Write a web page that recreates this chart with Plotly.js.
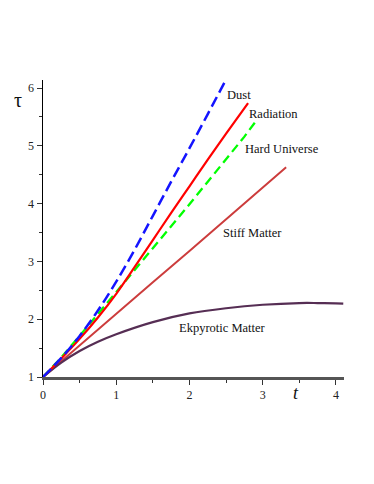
<!DOCTYPE html>
<html>
<head>
<meta charset="utf-8">
<script src="https://cdn.plot.ly/plotly-3.0.1.min.js"></script>
<style>
  html, body { margin: 0; padding: 0; background: #fff; }
  #chart { width: 374px; height: 484px; }
</style>
</head>
<body>
<div id="chart"></div>
<script>
// values
var dustT = [0, 0.25, 0.5, 0.75, 1, 1.25, 1.5, 1.75, 2, 2.25, 2.5];
var dustTau = [1, 1.33, 1.71, 2.15, 2.65, 3.20, 3.79, 4.38, 4.96, 5.55, 6.15];

var radT = [0, 0.25, 0.5, 0.75, 1, 1.25, 1.5, 1.75, 2, 2.25, 2.5, 2.8];
var radTau = [1, 1.32, 1.66, 2.03, 2.44, 2.90, 3.37, 3.84, 4.30, 4.76, 5.21, 5.74];

var hardT = [0, 0.25, 0.5, 0.75, 1, 1.25, 1.5, 1.75, 2, 2.25, 2.5, 2.75, 2.92];
var hardTau = [1, 1.34, 1.71, 2.09, 2.46, 2.84, 3.22, 3.60, 3.99, 4.38, 4.77, 5.16, 5.45];

var stiffT = [0, 0.5, 1, 1.5, 2, 2.5, 3, 3.32];
var stiffTau = [1, 1.55, 2.09, 2.64, 3.18, 3.73, 4.28, 4.63];

var ekT = [0, 0.25, 0.5, 0.75, 1, 1.5, 2, 2.5, 3, 3.5, 3.75, 4, 4.1];
var ekTau = [1, 1.25, 1.45, 1.61, 1.74, 1.95, 2.10, 2.19, 2.25, 2.28, 2.28, 2.275, 2.27];

var labelText = ['Dust', 'Radiation', 'Hard Universe', 'Stiff Matter', 'Ekpyrotic Matter'];
var labelT = [2.67, 3.15, 3.26, 2.86, 2.445];
var labelTau = [5.88, 5.55, 4.94, 3.49, 1.84];

var serif = 'Liberation Serif, Times New Roman, serif';

var data = [
  {x: stiffT, y: stiffTau, name: 'Stiff Matter', type: 'scatter', mode: 'lines',
   line: {color: 'rgb(204,60,60)', width: 2}},
  {x: ekT, y: ekTau, name: 'Ekpyrotic Matter', type: 'scatter', mode: 'lines',
   line: {color: 'rgb(86,46,84)', width: 2.2, shape: 'spline'}},
  {x: hardT, y: hardTau, name: 'Hard Universe', type: 'scatter', mode: 'lines',
   line: {color: 'rgb(0,255,0)', width: 2.3, dash: '9px,5px'}},
  {x: radT, y: radTau, name: 'Radiation', type: 'scatter', mode: 'lines',
   line: {color: 'rgb(255,0,0)', width: 2.2, shape: 'spline'}},
  {x: dustT, y: dustTau, name: 'Dust', type: 'scatter', mode: 'lines',
   line: {color: 'rgb(20,20,255)', width: 2.5, dash: '11px,5px', shape: 'spline'}}
];

var annotations = labelText.map(function (s, i) {
  return {x: labelT[i], y: labelTau[i], text: s, showarrow: false,
          font: {family: serif, size: 12.5, color: '#111'}};
});
// axis names sit outside the plot area, so place them in paper units
annotations.push({xref: 'paper', yref: 'paper', x: -0.083, y: 0.933, text: 'τ', showarrow: false,
                  xanchor: 'center', yanchor: 'middle',
                  font: {family: serif, size: 20, color: '#111'}});
annotations.push({xref: 'paper', yref: 'paper', x: 0.841, y: -0.054, text: '<i>t</i>', showarrow: false,
                  xanchor: 'center', yanchor: 'middle',
                  font: {family: serif, size: 18, color: '#111'}});

var layout = {
  width: 374,
  height: 484,
  margin: {l: 43, r: 30, t: 80, b: 107},
  showlegend: false,
  paper_bgcolor: 'white',
  plot_bgcolor: 'white',
  xaxis: {
    range: [0, 4.11],
    tickvals: [0, 1, 2, 3, 4],
    ticks: 'outside', ticklen: 5, tickwidth: 1, tickcolor: '#333',
    minor: {dtick: 0.5, ticks: 'outside', ticklen: 3, tickcolor: '#333'},
    showline: true, linecolor: '#555', linewidth: 2.5,
    showgrid: false, zeroline: false,
    tickfont: {family: serif, size: 12, color: '#222'}
  },
  yaxis: {
    range: [1, 6.14],
    tickvals: [1, 2, 3, 4, 5, 6],
    ticks: 'outside', ticklen: 5, tickwidth: 1, tickcolor: '#333',
    minor: {dtick: 0.5, ticks: 'outside', ticklen: 3, tickcolor: '#333'},
    showline: true, linecolor: '#000', linewidth: 1.5,
    showgrid: false, zeroline: false,
    tickfont: {family: serif, size: 12, color: '#222'}
  },
  annotations: annotations
};

Plotly.newPlot('chart', data, layout, {displayModeBar: false, staticPlot: true});
</script>
</body>
</html>
